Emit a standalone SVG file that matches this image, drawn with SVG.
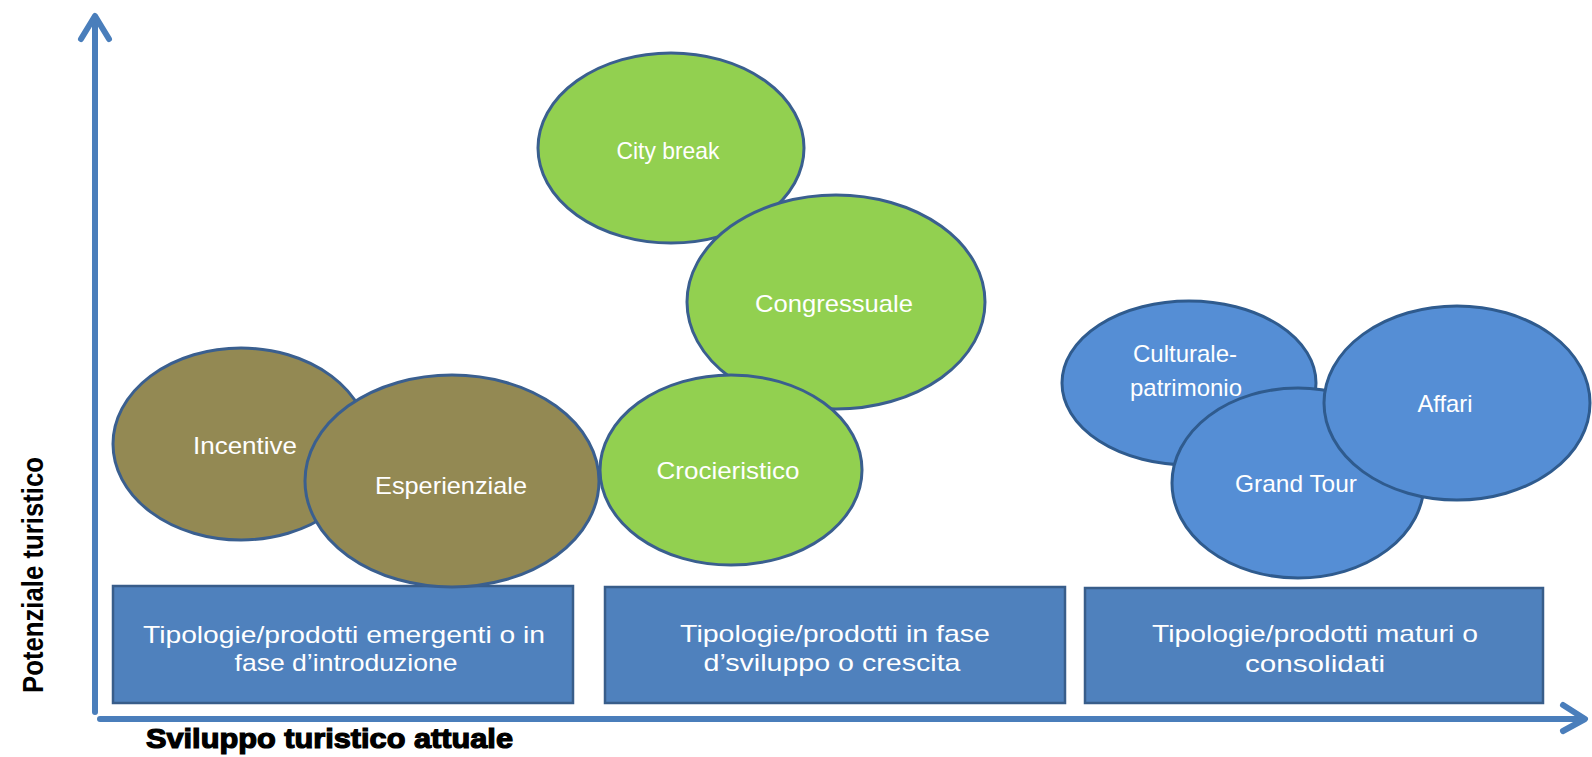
<svg xmlns="http://www.w3.org/2000/svg" width="1592" height="757" viewBox="0 0 1592 757">
<defs>
<style>
.ax{stroke:#4A7EBB;stroke-width:6;fill:none;stroke-linecap:round;stroke-linejoin:round}
.brown{fill:#938953;stroke:#3A5F8F;stroke-width:3}
.green{fill:#92D050;stroke:#3A5F8F;stroke-width:3}
.blue{fill:#558ED5;stroke:#2F5B8E;stroke-width:3}
.box{fill:#4F81BD;stroke:#385D8A;stroke-width:2.5}
.lbl{font-family:"Liberation Sans",Arial,sans-serif;font-size:24px;fill:#FFFFFF;text-anchor:middle;dominant-baseline:central}
.axl{font-family:"Liberation Sans",Arial,sans-serif;font-weight:bold;fill:#000000}
</style>
</defs>
<rect width="1592" height="757" fill="#FFFFFF"/>
<g id="connectors">
<path class="ax" d="M95,712 V17"/>
<path class="ax" d="M81,39 L95,16 L109,39"/>
<path class="ax" d="M100,719 H1583"/>
<path class="ax" d="M1563,705 L1585,719 L1563,731"/>
</g>
<g id="axis-labels">
<text class="axl" transform="translate(43,575) rotate(-90)" text-anchor="middle" textLength="236" lengthAdjust="spacingAndGlyphs" style="font-size:30px">Potenziale turistico</text>
<text class="axl" x="146" y="748" textLength="367" lengthAdjust="spacingAndGlyphs" style="font-size:27px;stroke:#000;stroke-width:1.2">Sviluppo turistico attuale</text>
</g>
<g id="box1"><rect class="box" x="113" y="586" width="460" height="117"/>
<text class="lbl" x="344" y="634" textLength="402" lengthAdjust="spacingAndGlyphs">Tipologie/prodotti emergenti o  in</text>
<text class="lbl" x="346" y="662" textLength="223" lengthAdjust="spacingAndGlyphs">fase d’introduzione</text></g>
<g id="box2"><rect class="box" x="605" y="587" width="460" height="116"/>
<text class="lbl" x="835" y="633" textLength="310" lengthAdjust="spacingAndGlyphs">Tipologie/prodotti  in fase</text>
<text class="lbl" x="832" y="662" textLength="257" lengthAdjust="spacingAndGlyphs">d’sviluppo o crescita</text></g>
<g id="box3"><rect class="box" x="1085" y="588" width="458" height="115"/>
<text class="lbl" x="1315" y="633" textLength="326" lengthAdjust="spacingAndGlyphs">Tipologie/prodotti  maturi o</text>
<text class="lbl" x="1315" y="663" textLength="140" lengthAdjust="spacingAndGlyphs">consolidati</text></g>
<g id="incentive"><ellipse class="brown" cx="241" cy="444" rx="128" ry="96"/>
<text class="lbl" x="245" y="445" textLength="104" lengthAdjust="spacingAndGlyphs">Incentive</text></g>
<g id="esperienziale"><ellipse class="brown" cx="452" cy="481" rx="147" ry="106"/>
<text class="lbl" x="451" y="485" textLength="152" lengthAdjust="spacingAndGlyphs">Esperienziale</text></g>
<g id="city-break"><ellipse class="green" cx="671" cy="148" rx="133" ry="95"/>
<text class="lbl" x="668" y="150" textLength="103" lengthAdjust="spacingAndGlyphs">City break</text></g>
<g id="congressuale"><ellipse class="green" cx="836" cy="302" rx="149" ry="107"/>
<text class="lbl" x="834" y="303" textLength="158" lengthAdjust="spacingAndGlyphs">Congressuale</text></g>
<g id="crocieristico"><ellipse class="green" cx="731" cy="470" rx="131" ry="95"/>
<text class="lbl" x="728" y="470" textLength="143" lengthAdjust="spacingAndGlyphs">Crocieristico</text></g>
<g id="culturale"><ellipse class="blue" cx="1189" cy="383" rx="127" ry="82"/>
<text class="lbl" x="1185" y="353" textLength="104" lengthAdjust="spacingAndGlyphs">Culturale-</text>
<text class="lbl" x="1186" y="387" textLength="112" lengthAdjust="spacingAndGlyphs">patrimonio</text></g>
<g id="grand-tour"><ellipse class="blue" cx="1298" cy="483" rx="126" ry="95"/>
<text class="lbl" x="1296" y="483" textLength="122" lengthAdjust="spacingAndGlyphs">Grand Tour</text></g>
<g id="affari"><ellipse class="blue" cx="1457" cy="403" rx="133" ry="97"/>
<text class="lbl" x="1445" y="403" textLength="55" lengthAdjust="spacingAndGlyphs">Affari</text></g>
</svg>
